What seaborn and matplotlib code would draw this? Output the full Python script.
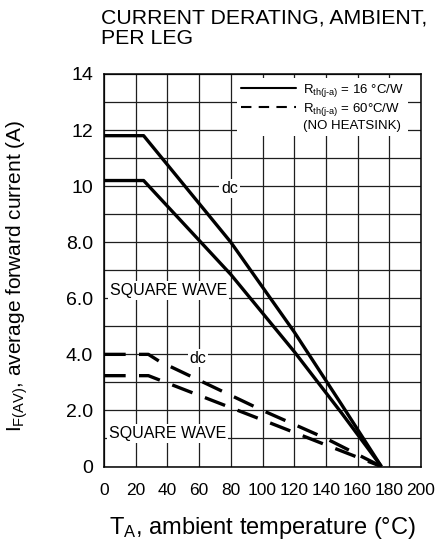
import matplotlib
matplotlib.use("Agg")
import matplotlib.pyplot as plt
from matplotlib.lines import Line2D
import seaborn as sns
import pandas as pd

# ---- data ----
dc16_T = [0, 25, 80, 120, 150, 175]
dc16_I = [11.8, 11.8, 8.0, 4.8, 2.2, 0.0]
sq16_T = [0, 25, 80, 120, 150, 175]
sq16_I = [10.2, 10.2, 6.85, 4.1, 1.9, 0.0]
dc60_T = [0, 28, 35, 100, 140, 175]
dc60_I = [4.0, 4.0, 3.75, 2.0, 1.0, 0.0]
sq60_T = [0, 28, 100, 140, 175]
sq60_I = [3.24, 3.24, 1.66, 0.77, 0.0]

x_ticks = [0, 20, 40, 60, 80, 100, 120, 140, 160, 180, 200]
y_ticks = [0, 2, 4, 6, 8, 10, 12, 14]
y_tick_labels = ["0", "2.0", "4.0", "6.0", "8.0", "10", "12", "14"]

title_text = "CURRENT DERATING, AMBIENT,\nPER LEG"
xlabel_text = r"T$_{\mathregular{A}}$, ambient temperature (°C)"
ylabel_text = r"I$_{\mathregular{F(AV)}}$, average forward current (A)"
legend_labels = [r"R$_{\mathregular{th(j‐a)}}$ = 16 °C/W",
                 r"R$_{\mathregular{th(j‐a)}}$ = 60°C/W",
                 "(NO HEATSINK)"]

series_names = ["dc16", "sq16", "dc60", "sq60"]
frames = []
for name, T, I in zip(series_names, [dc16_T, sq16_T, dc60_T, sq60_T],
                      [dc16_I, sq16_I, dc60_I, sq60_I]):
    frames.append(pd.DataFrame({"T": T, "I": I, "series": name}))
df = pd.concat(frames, ignore_index=True)

sns.set_style("white")
plt.rcParams["font.family"] = ["Liberation Sans", "DejaVu Sans"]
plt.rcParams["mathtext.fontset"] = "custom"
plt.rcParams["mathtext.rm"] = "Liberation Sans"
plt.rcParams["mathtext.it"] = "Liberation Sans:italic"
plt.rcParams["mathtext.bf"] = "Liberation Sans:bold"
for k in ["text.color", "axes.labelcolor", "xtick.color", "ytick.color"]:
    plt.rcParams[k] = "black"

fig = plt.figure(figsize=(4.38, 5.45), dpi=100)
ax = fig.add_axes([104 / 438, 78.5 / 545, 317 / 438, 392.5 / 545])

sns.lineplot(data=df, x="T", y="I", hue="series", style="series",
             palette={n: "black" for n in series_names},
             dashes={"dc16": "", "sq16": "", "dc60": (6.5, 4), "sq60": (6.5, 4)},
             estimator=None, sort=False, legend=False, lw=2.4, ax=ax,
             zorder=5)
for ln in ax.get_lines():
    ln.set_solid_capstyle("butt")
    ln.set_dash_capstyle("butt")

ax.set_xlim(0, 200)
ax.set_ylim(0, 14)
ax.set_xticks(x_ticks)
ax.set_xticklabels([str(v) for v in x_ticks])
ax.set_yticks(y_ticks)
ax.set_yticklabels(y_tick_labels)
ax.set_yticks([1, 3, 5, 7, 9, 11, 13], minor=True)
ax.grid(True, which="both", color="#1e1e1e", lw=0.9)
ax.set_axisbelow(True)
ax.tick_params(axis="both", which="both", length=0)
ax.tick_params(axis="y", labelsize=14, pad=8)
ax.tick_params(axis="x", labelsize=12.5, pad=12)
for sp in ax.spines.values():
    sp.set_visible(True)
    sp.set_color("black")
    sp.set_linewidth(1.1)

ax.set_xlabel(xlabel_text, fontsize=17, labelpad=12)
ax.set_ylabel(ylabel_text, fontsize=15)
ax.yaxis.set_label_coords(-0.235, 0.485)

box = dict(boxstyle="square,pad=0.12", fc="white", ec="none")
ax.text(79.3, 9.92, "dc", fontsize=11.5, ha="center", va="center", bbox=box, zorder=3)
ax.text(59.3, 3.87, "dc", fontsize=11.5, ha="center", va="center", bbox=box, zorder=3)
ax.text(40.9, 6.29, "SQUARE WAVE", fontsize=11.5, ha="center", va="center", bbox=box, zorder=3)
ax.text(39.9, 1.18, "SQUARE WAVE", fontsize=11.5, ha="center", va="center", bbox=box, zorder=3)

handles = [Line2D([], [], color="black", lw=1.5),
           Line2D([], [], color="black", lw=1.5, dashes=(5, 3.5)),
           Line2D([], [], color="none", lw=0)]
leg = ax.legend(handles, legend_labels, loc="upper right",
                bbox_to_anchor=(0.958, 0.99), fontsize=9.5, frameon=True,
                facecolor="white", edgecolor="none", framealpha=1,
                fancybox=False, handlelength=4.2, handletextpad=0.5,
                labelspacing=0.15, borderpad=0.3, borderaxespad=0)
leg.set_zorder(4)

fig.text(101 / 438, 1 - 9 / 545, title_text, fontsize=15.3, ha="left", va="top",
         linespacing=1.05)

fig.savefig("out.png", dpi=100)
